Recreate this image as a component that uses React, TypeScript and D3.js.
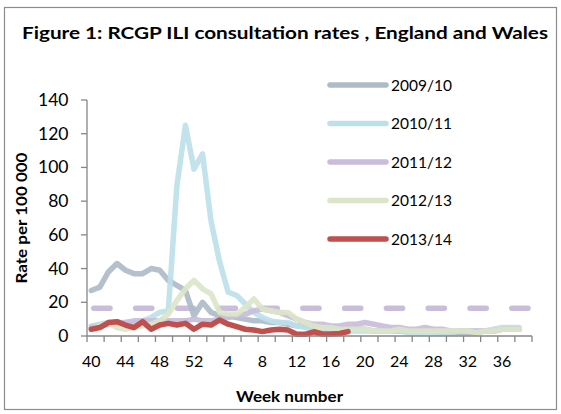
import React from 'react';
import * as d3 from 'd3';

const weeks = [40, 41, 42, 43, 44, 45, 46, 47, 48, 49, 50, 51, 52, 1, 2, 3, 4, 5, 6, 7, 8, 9, 10, 11, 12, 13, 14, 15, 16, 17, 18, 19, 20, 21, 22, 23, 24, 25, 26, 27, 28, 29, 30, 31, 32, 33, 34, 35, 36, 37, 38, 39];
const tickLabelWeeks = [40, 44, 48, 52, 4, 8, 12, 16, 20, 24, 28, 32, 36];
const yTicks = [0, 20, 40, 60, 80, 100, 120, 140];
const seasons = ['2009/10', '2010/11', '2011/12', '2012/13', '2013/14'];

const rates0910 = [27, 29, 38, 43, 39, 37, 37, 40, 39, 33, 30, 27, 12, 20, 14, 12, 12, 11, 10, 9, 9, 8, 8, 7, 6, 6, 5, 5, 5, 4, 4, 4, 4, 3, 3, 3, 3, 3, 3, 3, 3, 2, 2, 2, 2, 2, 3, 3, 4, 4, 4];
const rates1011 = [6, 7, 8, 8, 8, 8, 9, 11, 14, 15, 89, 125, 99, 108, 68, 44, 26, 24, 19, 14, 11, 9, 8, 8, 6, 5, 4, 4, 4, 3, 3, 3, 3, 3, 3, 3, 3, 2, 2, 2, 2, 2, 2, 3, 3, 3, 3, 4, 5, 5, 5];
const rates1112 = [5, 6, 7, 7, 8, 9, 9, 9, 9, 9, 9, 9, 10, 9, 9, 10, 11, 12, 13, 15, 16, 15, 14, 12, 10, 8, 7, 7, 6, 6, 7, 7, 8, 7, 6, 5, 5, 4, 4, 5, 4, 4, 3, 3, 3, 3, 3, 3, 4, 4, 4];
const rates1213 = [4, 6, 8, 5, 4, 5, 6, 7, 9, 13, 21, 28, 33, 28, 25, 14, 13, 13, 17, 22, 16, 15, 14, 14, 10, 8, 6, 5, 5, 4, 4, 4, 4, 3, 3, 3, 4, 3, 3, 3, 3, 3, 3, 3, 3, 2, 3, 3, 4, 4, 4];
const rates1314 = [4, 5, 8, 8.5, 6.5, 5, 8.5, 4, 6.5, 7.5, 6.5, 7.5, 4, 7, 6.5, 9.5, 7, 5.5, 4, 3.6, 2.6, 3.6, 4, 3.5, 1, 1, 2.5, 1.2, 1.2, 1.5, 2.6];
const thresholdValue = 16.4;

const seriesValues = [rates0910, rates1011, rates1112, rates1213, rates1314];
const colors = ['#aebbc9', '#bde0ea', '#c9bddb', '#dbe6c8', '#c0504d'];

const FONT = 'Lato, "Open Sans", sans-serif';

export default function App() {
  const W = 561, H = 414;
  const left = 87, right = 532, top = 100, bottom = 336;
  const x = d3.scaleBand<number>().domain(weeks).range([left, right]).padding(0);
  const y = d3.scaleLinear().domain([0, 140]).range([bottom, top]);
  const cx = (w: number) => (x(w) as number) + x.bandwidth() / 2;

  const line = d3.line<number>()
    .x((_, i) => cx(weeks[i]))
    .y((d) => y(d));

  const tickBoundaries = weeks.filter((_, i) => i % 2 === 0).map((w) => x(w) as number).concat([right]);

  const legendX1 = 330, legendX2 = 386;
  const legendY0 = 85, legendStep = 38.5;

  return (
    <svg width={W} height={H} style={{ position: 'absolute', left: 0, top: 0, background: '#fff' }} fontFamily={FONT}>
      <rect x={4.5} y={7.5} width={552} height={402} fill="#fff" stroke="#8c8c8c" strokeWidth={1.2} />
      <text x={22} y={39} fontSize={17} fontWeight="bold" fill="#000" textLength={526} lengthAdjust="spacingAndGlyphs">Figure 1: RCGP ILI consultation rates , England and Wales</text>

      {/* threshold dashed line */}
      <line x1={93.8} x2={528} y1={y(thresholdValue)} y2={y(thresholdValue)} stroke="#c9bddb" strokeWidth={5.5} strokeDasharray="16.2 25.6" strokeLinecap="round" />

      {seriesValues.map((vals, k) => (
        <path key={k} d={line(vals) || ''} fill="none" stroke={colors[k]} strokeWidth={5.5} strokeLinejoin="round" strokeLinecap="round" opacity={k === 4 ? 1 : 0.92} />
      ))}

      {/* axes */}
      <line x1={left} x2={left} y1={top} y2={bottom} stroke="#868686" strokeWidth={1.3} />
      <line x1={left} x2={right} y1={bottom} y2={bottom} stroke="#868686" strokeWidth={1.3} />
      {yTicks.map((t) => (
        <g key={t}>
          <line x1={left - 6} x2={left} y1={y(t)} y2={y(t)} stroke="#868686" strokeWidth={1.3} />
          <text x={68.5} y={y(t) + 6} textAnchor="end" fontSize={17.5} fill="#000">{t}</text>
        </g>
      ))}
      {tickBoundaries.map((tx, i) => (
        <line key={i} x1={tx} x2={tx} y1={bottom} y2={bottom + 6} stroke="#868686" strokeWidth={1.3} />
      ))}
      {tickLabelWeeks.map((w) => (
        <text key={w} x={cx(w)} y={367} textAnchor="middle" fontSize={16} fill="#000">{w}</text>
      ))}

      <text x={289.5} y={402} textAnchor="middle" fontSize={15} fontWeight="bold" fill="#000" textLength={107} lengthAdjust="spacingAndGlyphs">Week number</text>
      <text transform="translate(27,218) rotate(-90)" textAnchor="middle" fontSize={15} fontWeight="bold" fill="#000" textLength={131} lengthAdjust="spacingAndGlyphs">Rate per 100 000</text>

      {seasons.map((s, k) => (
        <g key={s}>
          <line x1={legendX1} x2={legendX2} y1={legendY0 + k * legendStep} y2={legendY0 + k * legendStep} stroke={colors[k]} strokeWidth={5.5} strokeLinecap="round" />
          <text x={391} y={legendY0 + k * legendStep + 5.5} fontSize={15.5} fill="#000">{s}</text>
        </g>
      ))}
    </svg>
  );
}
